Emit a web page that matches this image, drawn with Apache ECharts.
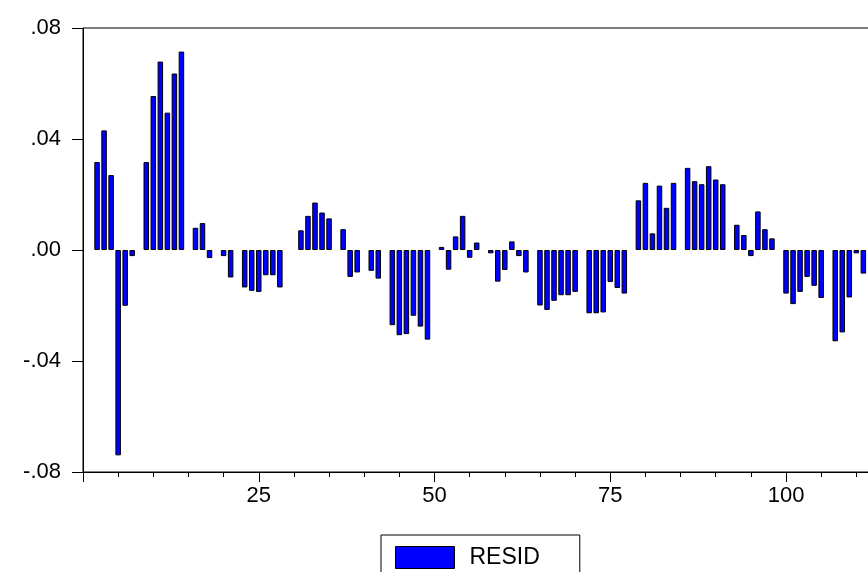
<!DOCTYPE html>
<html>
<head>
<meta charset="utf-8">
<script src="https://cdn.jsdelivr.net/npm/echarts@6/dist/echarts.min.js"></script>
<style>
  html, body { margin: 0; padding: 0; background: #ffffff; }
  #chart { width: 868px; height: 572px; }
</style>
</head>
<body>
<div id="chart"></div>
<script>
// Observation numbers (x) and residual values (null = no bar drawn)
const observations = [
  1, 2, 3, 4, 5, 6, 7, 8, 9, 10,
  11, 12, 13, 14, 15, 16, 17, 18, 19, 20,
  21, 22, 23, 24, 25, 26, 27, 28, 29, 30,
  31, 32, 33, 34, 35, 36, 37, 38, 39, 40,
  41, 42, 43, 44, 45, 46, 47, 48, 49, 50,
  51, 52, 53, 54, 55, 56, 57, 58, 59, 60,
  61, 62, 63, 64, 65, 66, 67, 68, 69, 70,
  71, 72, 73, 74, 75, 76, 77, 78, 79, 80,
  81, 82, 83, 84, 85, 86, 87, 88, 89, 90,
  91, 92, 93, 94, 95, 96, 97, 98, 99, 100,
  101, 102, 103, 104, 105, 106, 107, 108, 109, 110,
  111
];
const resid = [
  null, 0.0317, 0.0431, 0.0270, -0.0740, -0.0201, -0.0022, null, 0.0317, 0.0555,
  0.0679, 0.0495, 0.0636, 0.0715, null, 0.0080, 0.0097, -0.0029, null, -0.0022,
  -0.0099, null, -0.0135, -0.0147, -0.0151, -0.0091, -0.0091, -0.0135, null, null,
  0.0071, 0.0123, 0.0171, 0.0135, 0.0114, null, 0.0075, -0.0097, -0.0081, null,
  -0.0075, -0.0103, null, -0.0271, -0.0307, -0.0303, -0.0237, -0.0276, -0.0323, null,
  0.0011, -0.0071, 0.0049, 0.0123, -0.0028, 0.0027, null, -0.0012, -0.0114, -0.0072,
  0.0031, -0.0022, -0.0081, null, -0.0200, -0.0216, -0.0183, -0.0163, -0.0163, -0.0151,
  null, -0.0228, -0.0228, -0.0225, -0.0115, -0.0137, -0.0157, null, 0.0179, 0.0242,
  0.0060, 0.0232, 0.0152, 0.0242, null, 0.0296, 0.0248, 0.0237, 0.0302, 0.0254,
  0.0237, null, 0.0091, 0.0054, -0.0022, 0.0139, 0.0075, 0.0042, null, -0.0157,
  -0.0195, -0.0151, -0.0097, -0.0129, -0.0173, null, -0.0329, -0.0297, -0.0171, -0.0012,
  -0.0085
];
const seriesName = 'RESID';
const yTicks = [-0.08, -0.04, 0.00, 0.04, 0.08];
const xLabelValues = [25, 50, 75, 100];

const fontFamily = '"Liberation Sans", Arial, Helvetica, sans-serif';

function fmtY(v) {
  const r = Math.round(v * 100) / 100;
  const s = Math.abs(r).toFixed(2).replace(/^0/, '');
  return (r < 0 ? '-' : '') + s;
}

const barData = observations.map((o, i) => [o, resid[i] === null ? '-' : resid[i]]);

const chart = echarts.init(document.getElementById('chart'), null, { renderer: 'canvas' });
chart.setOption({
  animation: false,
  backgroundColor: '#ffffff',
  grid: {
    left: 83,
    top: 28,
    right: -30.5,
    bottom: 100,
    show: true,
    borderColor: '#000000',
    borderWidth: 1,
    backgroundColor: 'transparent',
    containLabel: false,
    outerBoundsMode: 'none'
  },
  legend: {
    show: true,
    data: [seriesName],
    left: 381,
    top: 535,
    icon: 'rect',
    itemWidth: 59,
    itemHeight: 22,
    padding: [11, 40, 30, 14],
    borderColor: '#000000',
    borderWidth: 1,
    backgroundColor: '#ffffff',
    itemStyle: { color: '#0000ff', borderColor: '#000000', borderWidth: 1 },
    textStyle: {
      fontFamily: fontFamily,
      fontSize: 23,
      color: '#000000',
      padding: [0, 0, 0, 10]
    }
  },
  xAxis: {
    type: 'value',
    min: 0,
    max: 116,
    interval: 25,
    splitLine: { show: false },
    axisLine: { show: true, onZero: false, lineStyle: { color: '#000000', width: 1 } },
    axisTick: { show: true, inside: false, length: 10, lineStyle: { color: '#000000', width: 1 } },
    minorTick: { show: true, splitNumber: 5, length: 5, lineStyle: { color: '#000000', width: 1 } },
    minorSplitLine: { show: false },
    axisLabel: {
      show: true,
      margin: 13,
      color: '#000000',
      fontFamily: fontFamily,
      fontSize: 22,
      showMinLabel: false,
      showMaxLabel: false,
      formatter: function (v) { return xLabelValues.indexOf(v) >= 0 ? String(v) : ''; }
    }
  },
  yAxis: {
    type: 'value',
    min: yTicks[0],
    max: yTicks[yTicks.length - 1],
    interval: 0.04,
    splitLine: { show: false },
    axisLine: { show: true, onZero: false, lineStyle: { color: '#000000', width: 1 } },
    axisTick: { show: true, inside: false, length: 11, lineStyle: { color: '#000000', width: 1 } },
    axisLabel: {
      show: true,
      margin: 22,
      color: '#000000',
      fontFamily: fontFamily,
      fontSize: 22,
      formatter: fmtY
    }
  },
  series: [{
    name: seriesName,
    type: 'bar',
    data: barData,
    barWidth: 5.5,
    itemStyle: { color: '#0000ff', borderColor: '#000000', borderWidth: 1 },
    emphasis: { disabled: true }
  }]
});
</script>
</body>
</html>
